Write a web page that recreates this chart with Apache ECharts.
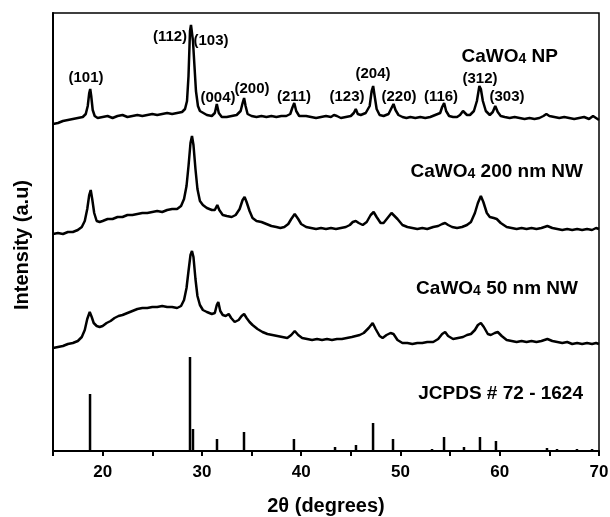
<!DOCTYPE html>
<html>
<head>
<meta charset="utf-8">
<script src="https://cdn.jsdelivr.net/npm/echarts@6/dist/echarts.min.js"></script>
<style>
  html, body { margin: 0; padding: 0; background: #fff; }
  #chart { width: 610px; height: 517px; }
</style>
</head>
<body>
<div id="chart"></div>
<script>
// 2θ / 强度 (a.u.)，每条曲线在同一个纵轴上错开显示
const npPattern = [
  [15.0, 327], [15.5, 328], [16.0, 330], [16.5, 331], [17.0, 332], [17.5, 333], [18.0, 334],
  [18.3, 337], [18.5, 345], [18.65, 358], [18.75, 362], [18.85, 355], [19.0, 341], [19.2, 335],
  [19.5, 333], [20.0, 334], [20.5, 335], [21.0, 333], [21.5, 335], [22.0, 336], [22.5, 334],
  [23.0, 335], [23.5, 336], [24.0, 335], [24.5, 336], [25.0, 337], [25.5, 336], [26.0, 337],
  [26.5, 338], [27.0, 337], [27.5, 338], [28.0, 339], [28.3, 342], [28.5, 350], [28.65, 375],
  [28.8, 420], [28.9, 426], [29.0, 424], [29.1, 410], [29.25, 385], [29.4, 360], [29.6, 345],
  [29.8, 340], [30.0, 338], [30.5, 336], [31.0, 335], [31.3, 338], [31.5, 347], [31.7, 338],
  [32.0, 334], [32.5, 334], [33.0, 335], [33.5, 336], [33.9, 340], [34.1, 348], [34.25, 353],
  [34.4, 345], [34.6, 337], [35.0, 335], [35.5, 334], [36.0, 335], [36.5, 334], [37.0, 335],
  [37.5, 334], [38.0, 335], [38.5, 335], [38.9, 337], [39.1, 343], [39.3, 348], [39.5, 340],
  [39.8, 335], [40.0, 334], [40.5, 335], [41.0, 334], [41.5, 333], [42.0, 334], [42.5, 335],
  [43.0, 334], [43.3, 336], [43.45, 338], [43.6, 335], [44.0, 333], [44.5, 334], [45.0, 335],
  [45.3, 338], [45.5, 342], [45.7, 337], [46.0, 336], [46.5, 338], [46.9, 345], [47.1, 360],
  [47.25, 365], [47.4, 355], [47.6, 342], [47.9, 336], [48.3, 335], [48.8, 337], [49.1, 343],
  [49.3, 347], [49.5, 341], [49.8, 336], [50.2, 334], [50.6, 333], [51.0, 334], [51.5, 333],
  [52.0, 334], [52.5, 333], [53.0, 334], [53.5, 336], [54.0, 338], [54.2, 344], [54.4, 348],
  [54.6, 340], [54.9, 335], [55.3, 334], [55.7, 334], [56.0, 336], [56.3, 340], [56.45, 341],
  [56.7, 336], [57.0, 336], [57.4, 340], [57.7, 350], [57.95, 365], [58.1, 362], [58.3, 350],
  [58.6, 340], [59.0, 336], [59.3, 339], [59.55, 345], [59.8, 339], [60.1, 335], [60.5, 334],
  [61.0, 333], [61.5, 334], [62.0, 333], [62.5, 332], [63.0, 333], [63.5, 332], [64.0, 333],
  [64.4, 335], [64.7, 337], [65.0, 335], [65.5, 334], [66.0, 333], [66.5, 334], [67.0, 333],
  [67.5, 332], [68.0, 333], [68.5, 334], [69.0, 332], [69.4, 335], [69.7, 333], [70.0, 331]
];

const nw200Pattern = [
  [15.0, 217], [15.5, 218], [16.0, 217], [16.5, 219], [17.0, 219], [17.5, 221], [17.9, 224],
  [18.2, 230], [18.45, 242], [18.65, 256], [18.8, 261], [18.95, 252], [19.15, 238], [19.4, 230],
  [19.7, 229], [20.0, 230], [20.5, 232], [21.0, 232], [21.5, 234], [22.0, 234], [22.5, 236],
  [23.0, 236], [23.5, 237], [24.0, 238], [24.5, 238], [25.0, 239], [25.5, 240], [26.0, 239],
  [26.5, 241], [27.0, 242], [27.5, 242], [27.9, 245], [28.2, 252], [28.45, 265], [28.65, 285],
  [28.85, 308], [29.0, 315], [29.15, 306], [29.35, 282], [29.55, 262], [29.8, 250], [30.1, 246],
  [30.5, 243], [31.0, 241], [31.3, 241], [31.55, 246], [31.75, 241], [32.1, 236], [32.5, 235],
  [33.0, 234], [33.4, 236], [33.8, 242], [34.1, 251], [34.3, 254], [34.5, 249], [34.8, 240],
  [35.1, 233], [35.5, 230], [36.0, 229], [36.5, 227], [37.0, 225], [37.5, 224], [37.9, 223],
  [38.3, 224], [38.7, 227], [39.0, 232], [39.35, 237], [39.7, 232], [40.0, 227], [40.5, 224],
  [41.0, 223], [41.5, 222], [42.0, 223], [42.5, 222], [43.0, 223], [43.5, 222], [44.0, 223],
  [44.5, 224], [44.9, 226], [45.2, 229], [45.5, 230], [45.8, 228], [46.2, 226], [46.6, 229],
  [47.0, 236], [47.3, 239], [47.6, 234], [48.0, 228], [48.3, 228], [48.7, 233], [49.1, 238],
  [49.3, 238], [49.7, 232], [50.2, 226], [50.7, 224], [51.2, 223], [51.7, 222], [52.2, 223],
  [52.7, 222], [53.3, 224], [53.8, 225], [54.2, 227], [54.5, 228], [54.8, 226], [55.2, 224],
  [55.7, 223], [56.2, 224], [56.7, 226], [57.1, 229], [57.5, 238], [57.8, 248], [58.1, 255],
  [58.35, 249], [58.7, 238], [59.0, 234], [59.4, 233], [59.7, 232], [60.1, 228], [60.7, 224],
  [61.2, 223], [61.7, 222], [62.2, 223], [62.7, 222], [63.2, 223], [63.7, 222], [64.2, 223],
  [64.8, 225], [65.3, 223], [65.8, 222], [66.3, 221], [66.8, 222], [67.3, 221], [67.8, 222],
  [68.3, 221], [68.8, 222], [69.3, 221], [69.7, 223], [70.0, 222]
];

const nw50Pattern = [
  [15.0, 103], [15.5, 104], [16.0, 105], [16.5, 107], [17.0, 108], [17.5, 110], [17.9, 114],
  [18.2, 121], [18.45, 132], [18.7, 139], [18.9, 134], [19.1, 128], [19.4, 125], [19.7, 124],
  [20.0, 125], [20.4, 128], [20.8, 130], [21.2, 133], [21.6, 135], [22.0, 136], [22.5, 138],
  [23.0, 140], [23.5, 142], [24.0, 143], [24.5, 143], [25.0, 144], [25.5, 144], [26.0, 145],
  [26.5, 144], [27.0, 144], [27.5, 143], [27.9, 145], [28.2, 151], [28.45, 163], [28.65, 180],
  [28.85, 196], [29.0, 200], [29.15, 194], [29.35, 172], [29.55, 155], [29.8, 146], [30.1, 141],
  [30.5, 139], [31.0, 137], [31.3, 138], [31.5, 146], [31.65, 149], [31.85, 140], [32.1, 136],
  [32.4, 135], [32.7, 137], [32.95, 133], [33.3, 129], [33.7, 131], [34.0, 135], [34.25, 137],
  [34.5, 133], [34.8, 129], [35.1, 126], [35.6, 122], [36.1, 119], [36.6, 117], [37.1, 116],
  [37.6, 115], [38.1, 114], [38.6, 113], [39.0, 116], [39.35, 120], [39.7, 116], [40.1, 113],
  [40.6, 112], [41.1, 111], [41.6, 112], [42.1, 111], [42.6, 112], [43.1, 111], [43.6, 112],
  [44.1, 112], [44.6, 113], [45.1, 114], [45.5, 115], [45.9, 116], [46.3, 118], [46.8, 123],
  [47.2, 128], [47.5, 122], [47.9, 115], [48.2, 113], [48.6, 116], [49.0, 118], [49.3, 117],
  [49.7, 111], [50.2, 108], [50.7, 108], [51.2, 107], [51.7, 108], [52.2, 108], [52.7, 109],
  [53.3, 109], [53.8, 112], [54.2, 117], [54.5, 119], [54.8, 115], [55.3, 112], [55.8, 113],
  [56.3, 114], [56.7, 116], [57.1, 117], [57.5, 121], [57.8, 126], [58.1, 128], [58.4, 124],
  [58.8, 117], [59.1, 116], [59.5, 118], [59.8, 119], [60.2, 115], [60.7, 111], [61.2, 110],
  [61.7, 109], [62.2, 110], [62.7, 109], [63.2, 110], [63.7, 109], [64.2, 110], [64.8, 112],
  [65.3, 110], [65.8, 109], [66.3, 108], [66.8, 109], [67.3, 107], [67.8, 108], [68.3, 107],
  [68.8, 108], [69.3, 107], [69.7, 108], [70.0, 107]
];

// JCPDS 72-1624 标准卡片谱线
const stickTheta  = [18.73, 28.8, 29.1, 31.52, 34.24, 39.27, 43.41, 45.52, 47.24, 49.25, 53.18, 54.39, 56.4, 58.01, 59.62, 64.76, 65.77, 67.78, 69.3];
const stickHeight = [57, 94, 22, 12, 19, 12, 4, 6, 28, 12, 2, 14, 4, 14, 10, 3, 2, 2, 2];

// 晶面指数标注
const hklLabels = ['(101)', '(112)', '(103)', '(004)', '(200)', '(211)', '(123)', '(204)', '(220)', '(116)', '(312)', '(303)'];
const hklPos = [[86, 78], [170, 37], [211, 41], [218, 98], [252, 89], [294, 97], [347, 97], [373, 74], [399, 97], [441, 97], [480, 79], [507, 97]];

const xTicks = [20, 30, 40, 50, 60, 70];

const FONT = 'Arial, "Liberation Sans", sans-serif';

const chart = echarts.init(document.getElementById('chart'));

const curveSeries = (data) => ({
  type: 'line',
  data: data,
  showSymbol: false,
  silent: true,
  lineStyle: { color: '#000', width: 2.5 }
});

// 样品名称，带下标
const sampleText = (text, x, y) => ({
  type: 'text',
  x: x,
  y: y,
  style: {
    text: text,
    align: 'right',
    verticalAlign: 'middle',
    fill: '#000',
    rich: {
      m: { fontSize: 19, fontWeight: 'bold', fontFamily: FONT, lineHeight: 22, verticalAlign: 'bottom' },
      s: { fontSize: 14, fontWeight: 'bold', fontFamily: FONT, lineHeight: 13, verticalAlign: 'bottom' }
    }
  }
});

const graphics = hklLabels.map((t, i) => ({
  type: 'text',
  x: hklPos[i][0],
  y: hklPos[i][1],
  style: {
    text: t,
    align: 'center',
    verticalAlign: 'middle',
    fill: '#000',
    font: 'bold 15px ' + FONT
  }
}));
graphics.push(sampleText('{m|CaWO}{s|4}{m| NP}', 558, 55));
graphics.push(sampleText('{m|CaWO}{s|4}{m| 200 nm NW}', 583, 170));
graphics.push(sampleText('{m|CaWO}{s|4}{m| 50 nm NW}', 578, 287));
graphics.push({
  type: 'text',
  x: 583,
  y: 394,
  style: {
    text: 'JCPDS # 72 - 1624',
    align: 'right',
    verticalAlign: 'middle',
    fill: '#000',
    font: 'bold 19px ' + FONT
  }
});
// 纵轴标题
graphics.push({
  type: 'text',
  x: 22,
  y: 245,
  rotation: Math.PI / 2,
  style: {
    text: 'Intensity (a.u)',
    align: 'center',
    verticalAlign: 'middle',
    fill: '#000',
    font: 'bold 20px ' + FONT
  }
});

const option = {
  animation: false,
  backgroundColor: '#fff',
  grid: {
    left: 53,
    right: 11,
    top: 13,
    bottom: 66,
    outerBoundsMode: 'none',
    show: true,
    borderColor: '#000',
    borderWidth: 1.5
  },
  xAxis: {
    type: 'value',
    min: 15,
    max: 70,
    interval: 5,
    name: '2θ (degrees)',
    nameLocation: 'middle',
    nameGap: 45,
    nameTextStyle: { fontSize: 20, fontWeight: 'bold', fontFamily: FONT, color: '#000' },
    axisLine: { show: true, lineStyle: { color: '#000', width: 2 } },
    axisTick: { show: true, length: 5, lineStyle: { color: '#000', width: 2 } },
    axisLabel: {
      color: '#000',
      fontSize: 17,
      fontWeight: 'bold',
      fontFamily: FONT,
      margin: 13,
      formatter: (v) => (xTicks.includes(v) ? String(v) : '')
    },
    splitLine: { show: false }
  },
  yAxis: {
    type: 'value',
    min: 0,
    max: 438,
    axisLine: { show: true, lineStyle: { color: '#000', width: 2 } },
    axisTick: { show: false },
    axisLabel: { show: false },
    splitLine: { show: false }
  },
  series: [
    curveSeries(npPattern),
    curveSeries(nw200Pattern),
    curveSeries(nw50Pattern),
    {
      type: 'bar',
      data: stickTheta.map((t, i) => [t, stickHeight[i]]),
      barWidth: 2.5,
      silent: true,
      itemStyle: { color: '#000' }
    }
  ],
  graphic: graphics
};

chart.setOption(option);
</script>
</body>
</html>
